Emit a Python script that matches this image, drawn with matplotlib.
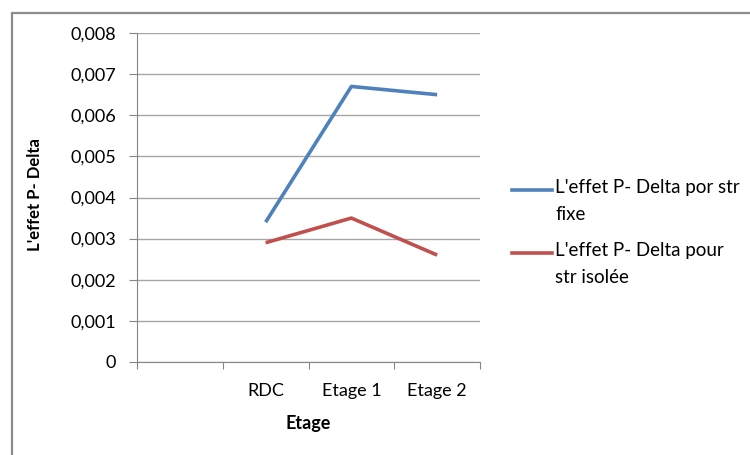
import matplotlib.pyplot as plt
from matplotlib.patches import Rectangle
from matplotlib.lines import Line2D
from matplotlib.ticker import FuncFormatter

plt.rcParams['font.family'] = ['Lato', 'DejaVu Sans']

# Data
categories = ["", "RDC", "Etage 1", "Etage 2"]
fixe = [None, 0.0034, 0.0067, 0.0065]
isolee = [None, 0.0029, 0.0035, 0.0026]
labels = ["L'effet P- Delta por str\nfixe", "L'effet P- Delta pour\nstr isolée"]
colors = ['#4F81BD', '#C0504D']

W, H = 750, 455
fig = plt.figure(figsize=(7.5, 4.55), dpi=100)
ax = fig.add_axes([137 / W, 1 - 362 / H, 343 / W, 329 / H])

# outer chart border (cut off at right/bottom like the reference)
fig.patches.append(Rectangle((12 / W, -0.1), 1.0, 1 - 13 / H + 0.1,
                             transform=fig.transFigure, fill=False,
                             edgecolor='#8C8C8C', linewidth=1.6))

for vals, col in zip([fixe, isolee], colors):
    xs = [i + 0.5 for i, v in enumerate(vals) if v is not None]
    ys = [v for v in vals if v is not None]
    ax.plot(xs, ys, color=col, linewidth=2.6, solid_capstyle='butt')

ax.set_xlim(0, len(categories))
ax.set_ylim(0, 0.008)
ax.set_yticks([i * 0.001 for i in range(9)])
ax.yaxis.set_major_formatter(FuncFormatter(
    lambda v, p: '0' if v == 0 else f'{v:.3f}'.replace('.', ',')))
ax.grid(axis='y', color='#A6A6A6', linewidth=1)
ax.set_axisbelow(True)

ax.set_xticks(range(len(categories) + 1))
ax.set_xticklabels([])
ax.set_xticks([i + 0.5 for i in range(len(categories))], minor=True)
ax.set_xticklabels(categories, minor=True)
ax.tick_params(axis='x', which='minor', length=0, pad=15, labelsize=13)
ax.tick_params(axis='x', which='major', length=5, color='#868686')
ax.tick_params(axis='y', length=6, color='#868686', labelsize=13, pad=9)

for s in ['top', 'right']:
    ax.spines[s].set_visible(False)
for s in ['left', 'bottom']:
    ax.spines[s].set_color('#868686')

ax.set_xlabel('Etage', fontsize=13, fontweight='bold', labelpad=12)
ax.set_ylabel("L'effet P- Delta", fontsize=12, fontweight='bold')
ax.yaxis.set_label_coords(-0.275, 0.51)

# legend drawn as in the reference: handle aligned with first text line
for k, (lab, col) in enumerate(zip(labels, colors)):
    y = 1 - (190 + 63 * k) / H
    fig.add_artist(Line2D([512 / W, 552 / W], [y, y], color=col, linewidth=2.6,
                          transform=fig.transFigure))
    fig.text(555 / W, y + 11 / H, lab, fontsize=13.5, va='top', ha='left',
             linespacing=1.7, transform=fig.transFigure)

fig.savefig('out.png', dpi=100)
